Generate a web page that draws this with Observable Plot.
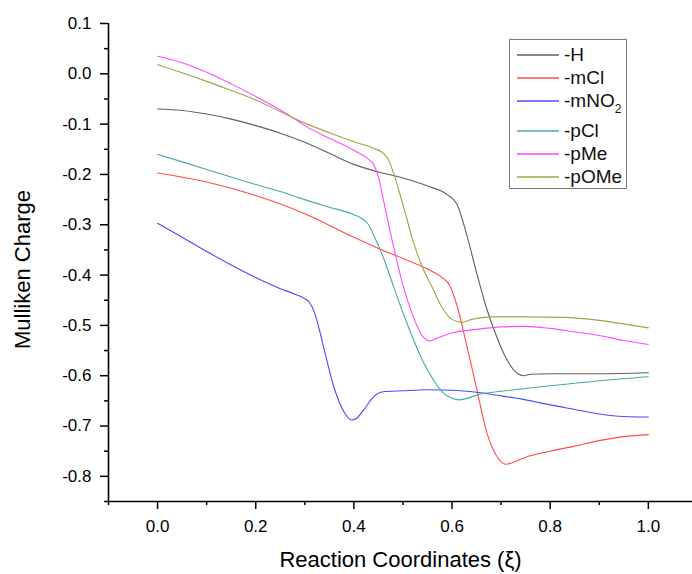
<!DOCTYPE html>
<html>
<head>
<meta charset="utf-8">
<script src="https://cdn.jsdelivr.net/npm/d3@7"></script>
<script src="https://cdn.jsdelivr.net/npm/@observablehq/plot@0.6"></script>
<style>
  html, body { margin: 0; padding: 0; background: #fff; }
  #wrap { position: relative; width: 692px; height: 574px; font-family: "Liberation Sans", Arial, sans-serif; }
  #legend { position: absolute; left: 509px; top: 39px; width: 116px; height: 145px; border: 1px solid #777; background: #fff; padding-top: 3px; box-sizing: content-box; }
  #legend div { height: 23px; display: flex; align-items: center; color: #111; white-space: nowrap; }
  #legend svg { margin-left: 7px; margin-right: 5px; flex: none; }
</style>
</head>
<body>
<div id="wrap"></div>
<script>
// ---- data ----
const seriesNames = ["-H", "-mCl", "-mNO2", "-pCl", "-pMe", "-pOMe"];
const seriesColors = ["#606060", "#ff4a4a", "#4a4aff", "#4aa8a8", "#ff4aff", "#a3a34a"];

const xH = [0, 0.05, 0.1, 0.15, 0.2, 0.25, 0.3, 0.35, 0.4, 0.45, 0.5, 0.55, 0.59, 0.61, 0.63, 0.65, 0.67, 0.69, 0.71, 0.73, 0.745, 0.76, 0.8, 0.9, 1.0];
const yH = [-0.070, -0.073, -0.080, -0.090, -0.103, -0.118, -0.136, -0.158, -0.180, -0.195, -0.207, -0.223, -0.240, -0.259, -0.320, -0.395, -0.465, -0.520, -0.565, -0.593, -0.600, -0.597, -0.596, -0.596, -0.594];

const xMCl = [0, 0.1, 0.2, 0.3, 0.4, 0.45, 0.5, 0.55, 0.58, 0.595, 0.61, 0.63, 0.65, 0.67, 0.69, 0.71, 0.725, 0.75, 0.8, 0.85, 0.9, 0.95, 1.0];
const yMCl = [-0.197, -0.215, -0.242, -0.278, -0.325, -0.347, -0.367, -0.388, -0.405, -0.420, -0.460, -0.540, -0.625, -0.710, -0.758, -0.776, -0.772, -0.762, -0.750, -0.740, -0.729, -0.721, -0.717];

const xMNO2 = [0, 0.05, 0.1, 0.15, 0.2, 0.25, 0.28, 0.30, 0.31, 0.32, 0.33, 0.34, 0.36, 0.38, 0.395, 0.405, 0.42, 0.44, 0.46, 0.5, 0.55, 0.6, 0.65, 0.7, 0.75, 0.8, 0.85, 0.9, 0.95, 1.0];
const yMNO2 = [-0.297, -0.325, -0.353, -0.380, -0.405, -0.427, -0.438, -0.447, -0.455, -0.475, -0.510, -0.550, -0.625, -0.672, -0.688, -0.685, -0.668, -0.642, -0.632, -0.630, -0.628, -0.629, -0.633, -0.640, -0.648, -0.658, -0.667, -0.676, -0.681, -0.682];

const xPCl = [0, 0.1, 0.2, 0.25, 0.3, 0.35, 0.4, 0.42, 0.43, 0.44, 0.46, 0.48, 0.5, 0.52, 0.54, 0.56, 0.58, 0.6, 0.615, 0.63, 0.66, 0.7, 0.8, 0.9, 1.0];
const yPCl = [-0.160, -0.190, -0.220, -0.234, -0.250, -0.265, -0.280, -0.290, -0.300, -0.320, -0.365, -0.420, -0.475, -0.525, -0.570, -0.605, -0.632, -0.645, -0.648, -0.645, -0.636, -0.631, -0.620, -0.610, -0.602];

const xPMe = [0, 0.05, 0.1, 0.15, 0.2, 0.25, 0.28, 0.3, 0.35, 0.4, 0.43, 0.44, 0.45, 0.46, 0.48, 0.5, 0.52, 0.54, 0.555, 0.57, 0.6, 0.65, 0.7, 0.75, 0.8, 0.85, 0.9, 0.95, 1.0];
const yPMe = [0.035, 0.022, 0.003, -0.020, -0.045, -0.072, -0.090, -0.103, -0.128, -0.152, -0.170, -0.180, -0.205, -0.250, -0.340, -0.420, -0.480, -0.522, -0.531, -0.525, -0.515, -0.508, -0.503, -0.502, -0.506, -0.513, -0.520, -0.530, -0.538];

const xPOMe = [0, 0.05, 0.1, 0.15, 0.2, 0.25, 0.3, 0.35, 0.4, 0.44, 0.46, 0.47, 0.48, 0.5, 0.52, 0.54, 0.56, 0.58, 0.6, 0.62, 0.64, 0.68, 0.75, 0.83, 0.9, 0.95, 1.0];
const yPOMe = [0.018, 0.002, -0.015, -0.033, -0.052, -0.075, -0.098, -0.117, -0.135, -0.148, -0.158, -0.170, -0.195, -0.260, -0.330, -0.385, -0.425, -0.465, -0.488, -0.494, -0.488, -0.483, -0.483, -0.484, -0.490, -0.497, -0.505];

const xMajorTicks = [0, 0.2, 0.4, 0.6, 0.8, 1.0];
const xMinorTicks = [-0.1, 0.1, 0.3, 0.5, 0.7, 0.9];
const yMajorTicks = [0.1, 0, -0.1, -0.2, -0.3, -0.4, -0.5, -0.6, -0.7, -0.8];
const yMinorTicks = [0.05, -0.05, -0.15, -0.25, -0.35, -0.45, -0.55, -0.65, -0.75, -0.85];
const xDomain = [-0.1, 1.09];
const yDomain = [-0.85, 0.1];
const xTitle = "Reaction Coordinates (ξ)";
const yTitle = "Mulliken Charge";

// ---- build table ----
const xs = [xH, xMCl, xMNO2, xPCl, xPMe, xPOMe];
const ys = [yH, yMCl, yMNO2, yPCl, yPMe, yPOMe];
const rows = [];
seriesNames.forEach((name, i) => {
  xs[i].forEach((x, j) => rows.push({series: name, x, y: ys[i][j]}));
});

const fmt = d => (Math.abs(d) < 1e-9 ? 0 : d).toFixed(1);

const chart = Plot.plot({
  width: 692,
  height: 574,
  marginLeft: 108,
  marginRight: 0,
  marginTop: 23,
  marginBottom: 73,
  style: {fontFamily: '"Liberation Sans", Arial, sans-serif', fontSize: "17px", background: "#fff", color: "#000"},
  x: {domain: xDomain},
  y: {domain: yDomain},
  color: {domain: seriesNames, range: seriesColors},
  marks: [
    Plot.line(rows, {x: "x", y: "y", z: "series", stroke: "series", strokeWidth: 1.1, curve: "monotone-x"}),
    Plot.axisX(xMajorTicks, {tickSize: 8, tickPadding: 10, tickFormat: fmt, fontSize: 17, label: null, strokeWidth: 1.5}),
    Plot.axisX(xMinorTicks, {tickSize: 4, tickFormat: () => "", label: null, strokeWidth: 1.5}),
    Plot.axisY(yMajorTicks, {tickSize: 8, tickPadding: 9, tickFormat: fmt, fontSize: 17, label: null, strokeWidth: 1.5}),
    Plot.axisY(yMinorTicks, {tickSize: 4, tickFormat: () => "", label: null, strokeWidth: 1.5}),
    Plot.ruleX([xDomain[0]], {strokeWidth: 1.6}),
    Plot.ruleY([yDomain[0]], {strokeWidth: 1.6}),
    Plot.text([xTitle], {text: d => d, frameAnchor: "bottom", lineAnchor: "middle", textAnchor: "middle", dy: 58, fontSize: 22}),
    Plot.text([yTitle], {text: d => d, frameAnchor: "left", lineAnchor: "middle", textAnchor: "middle", dx: -86, dy: 7, rotate: -90, fontSize: 22})
  ]
});

const wrap = document.getElementById("wrap");
wrap.appendChild(chart);

// legend
const legend = document.createElement("div");
legend.id = "legend";
seriesNames.forEach((name, i) => {
  const row = document.createElement("div");
  if (name === "-mNO2") row.style.marginBottom = "7px";
  const label = name === "-mNO2"
    ? '-mNO<span style="font-size:12px;position:relative;top:6px">2</span>'
    : name;
  row.innerHTML = `<svg width="42" height="4"><line x1="0" x2="42" y1="2" y2="2" stroke="${seriesColors[i]}" stroke-width="1.5"/></svg><span style="font-size:19px;font-family:'Liberation Sans',Arial,sans-serif">${label}</span>`;
  legend.appendChild(row);
});
wrap.appendChild(legend);
</script>
</body>
</html>
